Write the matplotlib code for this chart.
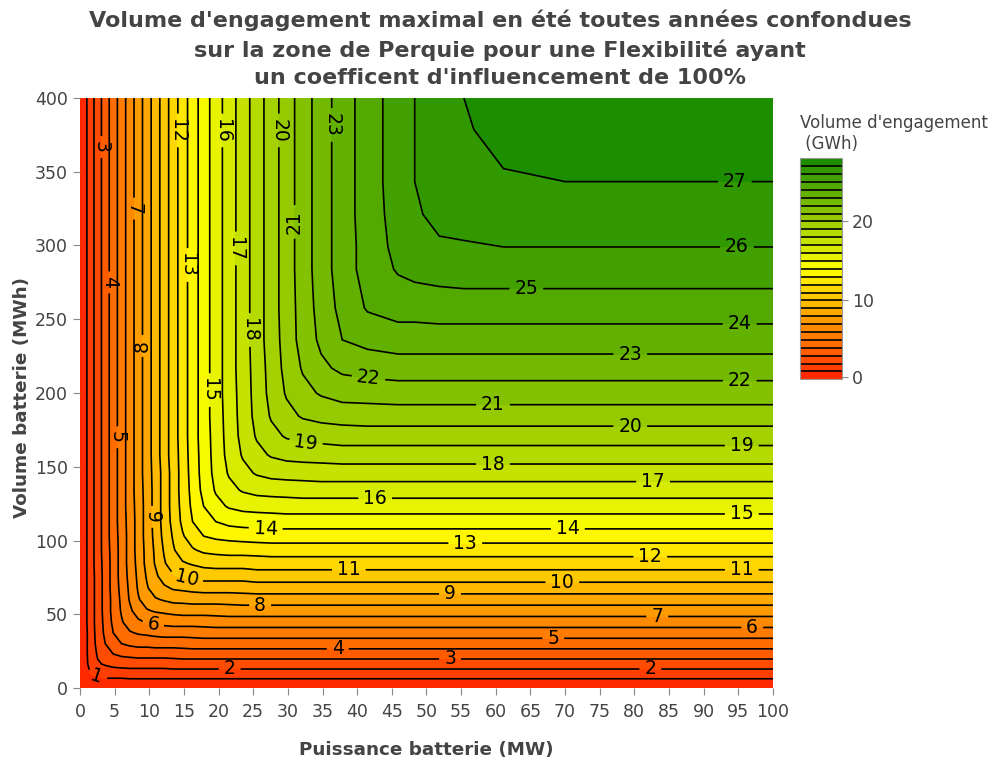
import numpy as np
import matplotlib
matplotlib.use('Agg')
import matplotlib.pyplot as plt
from matplotlib.colors import LinearSegmentedColormap

# grille : puissance (MW) en colonnes, volume (MWh) en lignes
puissance_mw = [0, 0.5, 1.5, 2.55, 3.65, 4.8, 6.0, 7.2, 8.4, 9.65, 10.9, 12.15, 13.45, 14.8, 16.25, 17.85,
                19.6, 21.5, 23.5, 25.5, 27.6, 29.8, 32.15, 34.8, 37.85, 41.5, 45.9, 48.3, 51.85, 55.4, 61.1,
                70, 85, 100]
volume_mwh = [0, 3.05, 9.5, 16.3, 23.05, 30.05, 37.4, 44.7, 52.3, 60.0, 67.65, 75.8, 84.5, 93.55, 102.95,
              112.8, 123.2, 134.15, 145.7, 158.0, 170.75, 184.3, 199.85, 216.85, 236.0, 257.65, 283.85, 299,
              321.15, 343.3, 378.7, 400]

# volume d'engagement en dixiemes de GWh (une ligne par volume)
engagement_dixiemes = [
    [0, 0, 0, 0, 0, 0, 0, 0, 0, 0, 0, 0, 0, 0, 0, 0, 0, 0, 0, 0, 0, 0, 0, 0, 0, 0, 0, 0, 0, 0, 0, 0, 0, 0],
    [0, 3, 5, 5, 5, 5, 5, 5, 5, 5, 5, 5, 5, 5, 5, 5, 5, 5, 5, 5, 5, 5, 5, 5, 5, 5, 5, 5, 5, 5, 5, 5, 5, 5],
    [0, 5, 10, 13, 14, 14, 14, 15, 15, 15, 15, 15, 15, 15, 15, 15, 15, 15, 15, 15, 15, 15, 15, 15, 15, 15, 15,
     15, 15, 15, 15, 15, 15, 15],
    [0, 5, 13, 19, 21, 23, 24, 24, 24, 24, 24, 24, 25, 25, 25, 25, 25, 25, 25, 25, 25, 25, 25, 25, 25, 25, 25,
     25, 25, 25, 25, 25, 25, 25],
    [0, 5, 14, 21, 27, 30, 32, 33, 34, 34, 34, 34, 34, 35, 35, 35, 35, 35, 35, 35, 35, 35, 35, 35, 35, 35, 35,
     35, 35, 35, 35, 35, 35, 35],
    [0, 5, 14, 23, 30, 36, 40, 42, 43, 43, 44, 44, 44, 44, 45, 45, 45, 45, 45, 45, 45, 45, 45, 45, 45, 45, 45,
     45, 45, 45, 45, 45, 45, 45],
    [0, 5, 14, 24, 32, 40, 46, 49, 51, 52, 53, 54, 54, 54, 54, 55, 55, 55, 55, 55, 55, 55, 55, 55, 55, 55, 55,
     55, 55, 55, 55, 55, 55, 55],
    [0, 5, 15, 24, 33, 42, 49, 55, 58, 61, 62, 63, 64, 64, 64, 64, 65, 65, 65, 65, 65, 65, 65, 65, 65, 65, 65,
     65, 65, 65, 65, 65, 65, 65],
    [0, 5, 15, 24, 34, 43, 51, 58, 65, 69, 71, 72, 73, 74, 74, 74, 74, 75, 75, 75, 75, 75, 75, 75, 75, 75, 75,
     75, 75, 75, 75, 75, 75, 75],
    [0, 5, 15, 24, 34, 43, 52, 61, 69, 75, 79, 81, 83, 83, 84, 84, 84, 84, 85, 85, 85, 85, 85, 85, 85, 85, 85,
     85, 85, 85, 85, 85, 85, 85],
    [0, 5, 15, 24, 34, 44, 53, 62, 71, 79, 85, 88, 91, 92, 93, 94, 94, 94, 94, 95, 95, 95, 95, 95, 95, 95, 95,
     95, 95, 95, 95, 95, 95, 95],
    [0, 5, 15, 24, 34, 44, 54, 63, 72, 81, 88, 95, 99, 101, 103, 104, 104, 104, 104, 105, 105, 105, 105, 105,
     105, 105, 105, 105, 105, 105, 105, 105, 105, 105],
    [0, 5, 15, 25, 34, 44, 54, 64, 73, 83, 91, 99, 105, 109, 111, 113, 114, 114, 114, 115, 115, 115, 115, 115,
     115, 115, 115, 115, 115, 115, 115, 115, 115, 115],
    [0, 5, 15, 25, 35, 44, 54, 64, 74, 83, 92, 101, 109, 115, 119, 122, 123, 124, 124, 124, 125, 125, 125, 125,
     125, 125, 125, 125, 125, 125, 125, 125, 125, 125],
    [0, 5, 15, 25, 35, 45, 54, 64, 74, 84, 93, 103, 111, 119, 125, 130, 132, 133, 134, 135, 135, 135, 135, 135,
     135, 135, 135, 135, 135, 135, 135, 135, 135, 135],
    [0, 5, 15, 25, 35, 45, 55, 64, 74, 84, 94, 104, 113, 122, 130, 136, 140, 143, 144, 144, 145, 145, 145, 145,
     145, 145, 145, 145, 145, 145, 145, 145, 145, 145],
    [0, 5, 15, 25, 35, 45, 55, 65, 74, 84, 94, 104, 114, 123, 132, 140, 147, 151, 153, 154, 154, 155, 155, 155,
     155, 155, 155, 155, 155, 155, 155, 155, 155, 155],
    [0, 5, 15, 25, 35, 45, 55, 65, 75, 84, 94, 104, 114, 124, 133, 143, 151, 157, 161, 163, 164, 164, 165, 165,
     165, 165, 165, 165, 165, 165, 165, 165, 165, 165],
    [0, 5, 15, 25, 35, 45, 55, 65, 75, 85, 94, 104, 114, 124, 134, 144, 153, 161, 167, 171, 173, 174, 174, 175,
     175, 175, 175, 175, 175, 175, 175, 175, 175, 175],
    [0, 5, 15, 25, 35, 45, 55, 65, 75, 85, 95, 105, 115, 124, 135, 144, 154, 163, 171, 177, 181, 183, 184, 184,
     185, 185, 185, 185, 185, 185, 185, 185, 185, 185],
    [0, 5, 15, 25, 35, 45, 55, 65, 75, 85, 95, 105, 115, 125, 135, 145, 154, 164, 173, 181, 187, 191, 193, 194,
     195, 195, 195, 195, 195, 195, 195, 195, 195, 195],
    [0, 5, 15, 25, 35, 45, 55, 65, 75, 85, 95, 105, 115, 125, 135, 145, 155, 164, 174, 183, 191, 197, 201, 203,
     204, 205, 205, 205, 205, 205, 205, 205, 205, 205],
    [0, 5, 15, 25, 35, 45, 55, 65, 75, 85, 95, 105, 115, 125, 135, 145, 155, 165, 174, 184, 193, 201, 207, 211,
     214, 214, 215, 215, 215, 215, 215, 215, 215, 215],
    [0, 5, 15, 25, 35, 45, 55, 65, 75, 85, 95, 105, 115, 125, 135, 145, 155, 165, 175, 184, 194, 203, 211, 218,
     222, 224, 225, 225, 225, 225, 225, 225, 225, 225],
    [0, 5, 15, 25, 35, 45, 55, 65, 75, 85, 95, 105, 115, 125, 135, 145, 155, 165, 175, 185, 195, 204, 214, 222,
     230, 233, 235, 235, 235, 235, 235, 235, 235, 235],
    [0, 5, 15, 25, 35, 45, 55, 65, 75, 85, 95, 105, 115, 125, 135, 145, 155, 165, 175, 185, 195, 205, 214, 224,
     233, 241, 244, 244, 245, 245, 245, 245, 245, 245],
    [0, 5, 15, 25, 35, 45, 55, 65, 75, 85, 95, 105, 115, 125, 135, 145, 155, 165, 175, 185, 195, 205, 215, 225,
     235, 244, 251, 253, 254, 255, 255, 255, 255, 255],
    [0, 5, 15, 25, 35, 45, 55, 65, 75, 85, 95, 105, 115, 125, 135, 145, 155, 165, 175, 185, 195, 205, 215, 225,
     235, 244, 253, 256, 259, 259, 260, 260, 260, 260],
    [0, 5, 15, 25, 35, 45, 55, 65, 75, 85, 95, 105, 115, 125, 135, 145, 155, 165, 175, 185, 195, 205, 215, 225,
     235, 245, 254, 259, 262, 264, 265, 265, 265, 265],
    [0, 5, 15, 25, 35, 45, 55, 65, 75, 85, 95, 105, 115, 125, 135, 145, 155, 165, 175, 185, 195, 205, 215, 225,
     235, 245, 255, 260, 264, 267, 269, 270, 270, 270],
    [0, 5, 15, 25, 35, 45, 55, 65, 75, 85, 95, 105, 115, 125, 135, 145, 155, 165, 175, 185, 195, 205, 215, 225,
     235, 245, 255, 260, 265, 269, 273, 275, 275, 275],
    [0, 5, 15, 25, 35, 45, 55, 65, 75, 85, 95, 105, 115, 125, 135, 145, 155, 165, 175, 185, 195, 205, 215, 225,
     235, 245, 255, 260, 265, 270, 274, 277, 278, 278],
]

niveaux = list(range(1, 28))
ticks_x = list(range(0, 101, 5))
ticks_y = list(range(0, 401, 50))
ticks_barre = [0, 10, 20]

# emplacement des etiquettes des isolignes (coord. donnees)
pos_etiquettes = [(3.3, 366.8), (14.4, 378), (20.6, 378), (28.9, 378), (36.5, 381.7), (7.6, 325), (31, 316),
                  (4.3, 275), (15.7, 286.8), (22.7, 298), (9.1, 231.9), (24.5, 242.7), (18.8, 202),
                  (5.5, 170), (10.1, 116), (94.5, 343.7), (94.8, 299), (64.4, 267.8), (95.2, 246),
                  (79.4, 225.8), (41.6, 208.8), (95.2, 207.5), (59.6, 190.5), (79.4, 177), (32.6, 166),
                  (95.5, 163.4), (59.6, 150.5), (82.7, 139), (42.6, 128.8), (95.5, 118), (26.8, 108.5),
                  (70.4, 108.5), (55.6, 97), (82.3, 88.8), (38.8, 79.3), (95.5, 79.3), (15.3, 73.2),
                  (69.6, 71.2), (53.4, 63), (26, 55.6), (83.3, 48.1), (10.5, 41.4), (97, 40.7), (68.3, 33.9),
                  (37.2, 25.8), (53.4, 19), (21.6, 12.2), (82.3, 12.2), (2.5, 8.8)]

Z = np.array(engagement_dixiemes) / 10.0

txt = '#444444'
fig = plt.figure(figsize=(9.97, 7.62), dpi=100)
ax = fig.add_axes([0.0802, 0.0971, 0.6951, 0.7743])
cmap = LinearSegmentedColormap.from_list('rjv', [(0, '#ff1e00'), (0.5, '#ffff00'), (1, '#0f8700')])
bornes = [-0.55] + niveaux + [28.6]
cf = ax.contourf(puissance_mw, volume_mwh, Z, levels=bornes, cmap=cmap, vmin=-0.55, vmax=28.6)
cl = ax.contour(puissance_mw, volume_mwh, Z, levels=niveaux, colors='black', linewidths=1.2)
ax.clabel(cl, fmt='%d', fontsize=13.5, inline=True, manual=pos_etiquettes)
ax.set_xlim(0, 100)
ax.set_ylim(0, 400)
ax.set_xticks(ticks_x)
ax.set_yticks(ticks_y)
ax.tick_params(colors='#888888', labelcolor=txt, labelsize=12.5, length=5)
ax.tick_params(axis='x', pad=6)
for side in ax.spines:
    ax.spines[side].set_visible(False)

fig.text(0.5015, 0.987, "Volume d'engagement maximal en été toutes années confondues\n"
         "sur la zone de Perquie pour une Flexibilité ayant\n"
         "un coefficent d'influencement de 100%",
         ha='center', va='top', fontsize=16, fontweight='bold', color=txt, linespacing=1.45)
fig.text(0.4273, 0.0157, 'Puissance batterie (MW)', ha='center', va='center', fontsize=13.2,
         fontweight='bold', color=txt)
fig.text(0.0221, 0.4777, 'Volume batterie (MWh)', ha='center', va='center', rotation=90, fontsize=13.2,
         fontweight='bold', color=txt)

cax = fig.add_axes([0.8024, 0.5022, 0.0418, 0.29])
cb = fig.colorbar(cf, cax=cax, ticks=ticks_barre)
cb.add_lines(cl)
cb.outline.set_edgecolor('#999999')
cax.tick_params(colors='#888888', labelcolor=txt, labelsize=12.5, length=4)
fig.text(0.8024, 0.799, "Volume d'engagement\n (GWh)", ha='left', va='bottom', fontsize=12, color=txt)

fig.savefig('out.png', dpi=100)
